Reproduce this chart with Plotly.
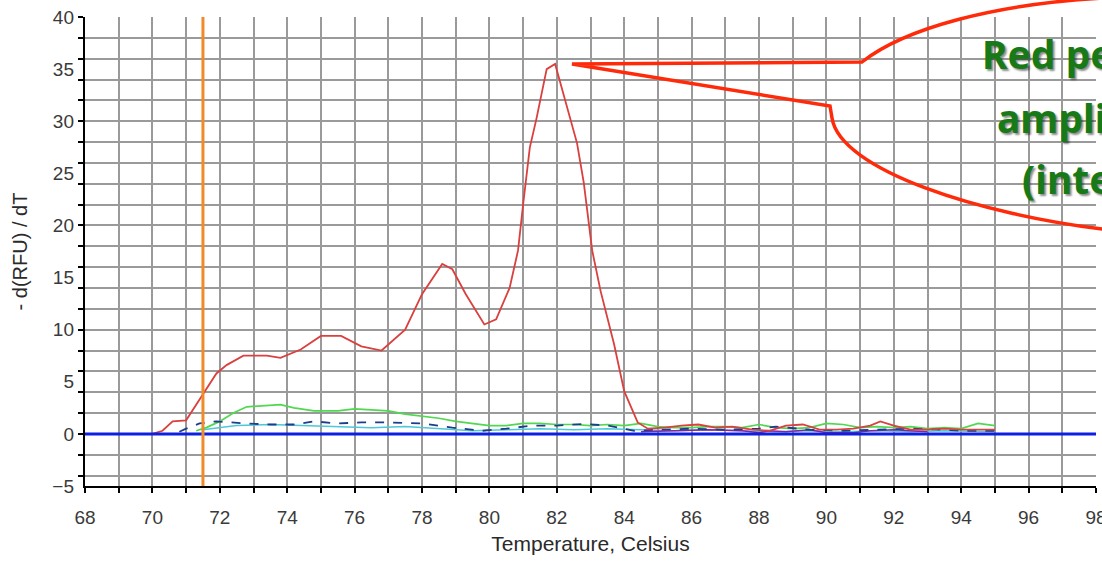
import plotly.graph_objects as go

# ---------------- data ----------------
red_x = [70.0, 70.3, 70.6, 71.0, 71.5, 71.9, 72.2, 72.7, 73.4, 73.8, 74.4, 75.0, 75.6, 76.2, 76.8,
         77.5, 78.0, 78.6, 78.9, 79.3, 79.85, 80.2, 80.6, 80.85, 81.0, 81.2, 81.4, 81.7, 81.95,
         82.3, 82.6, 82.8, 83.05, 83.3, 83.7, 84.0, 84.4, 84.7, 85.2, 85.7, 86.2, 86.7, 87.2,
         87.8, 88.3, 88.8, 89.3, 89.8, 90.3, 90.8, 91.3, 91.6, 92.0, 92.5, 93.0, 93.5, 94.0,
         94.5, 95.0]
red_y = [0.0, 0.3, 1.2, 1.3, 3.8, 5.8, 6.6, 7.5, 7.5, 7.3, 8.1, 9.4, 9.4, 8.4, 8.0,
         10.0, 13.4, 16.3, 15.8, 13.4, 10.5, 11.0, 14.0, 17.6, 22.0, 27.5, 30.3, 35.0, 35.5,
         31.4, 27.9, 24.1, 17.6, 13.7, 8.6, 4.1, 1.1, 0.5, 0.6, 0.8, 0.9, 0.6, 0.7,
         0.4, 0.3, 0.8, 0.9, 0.4, 0.4, 0.5, 0.8, 1.2, 0.8, 0.4, 0.4, 0.5, 0.4,
         0.4, 0.4]

green_x = [71.3, 71.6, 72.0, 72.4, 72.8, 73.2, 73.8, 74.2, 74.8, 75.5, 76.0, 76.5, 77.0, 77.5,
           78.0, 78.5, 79.0, 79.5, 80.0, 80.5, 81.0, 81.5, 82.0, 82.5, 83.0, 83.5, 84.0, 84.5,
           85.0, 85.5, 86.0, 86.5, 87.0, 87.5, 88.0, 88.5, 89.0, 89.5, 90.0, 90.5, 91.0, 91.5,
           92.0, 92.5, 93.0, 93.5, 94.0, 94.5, 95.0]
green_y = [0.3, 0.6, 1.2, 2.0, 2.6, 2.7, 2.8, 2.5, 2.2, 2.2, 2.4, 2.3, 2.2, 1.9,
           1.7, 1.5, 1.2, 1.0, 0.8, 0.8, 1.0, 1.0, 0.9, 0.9, 0.8, 0.9, 0.8, 1.0,
           0.7, 0.6, 0.6, 0.7, 0.7, 0.6, 0.9, 0.6, 0.5, 0.6, 1.0, 0.9, 0.6, 0.7,
           0.6, 0.7, 0.5, 0.6, 0.5, 1.0, 0.8]

navy_x = [70.8, 71.0, 71.4, 71.9, 72.8, 73.5, 74.2, 74.8, 75.5, 76.2, 77.0, 78.0, 78.9, 79.8,
          80.5, 81.3, 82.0, 82.8, 83.5, 84.3, 85.0, 86.0, 87.0, 88.0, 88.5, 89.5, 90.5, 91.5,
          92.5, 93.5, 94.0, 95.0]
navy_y = [0.2, 0.5, 1.0, 1.2, 1.0, 0.9, 0.9, 1.2, 1.0, 1.1, 1.1, 1.0, 0.6, 0.3,
          0.5, 0.8, 0.8, 0.95, 0.8, 0.3, 0.4, 0.5, 0.4, 0.5, 0.7, 0.4, 0.3, 0.4,
          0.5, 0.4, 0.3, 0.3]

cyan_x = [71.5, 72.5, 73.5, 74.5, 75.5, 76.5, 77.5, 78.5, 79.5, 80.5, 81.5, 82.5, 83.5, 84.5,
          85.5, 86.5, 87.5, 88.5, 89.5, 90.5, 91.5, 92.5, 93.5, 94.5, 95.0]
cyan_y = [0.4, 0.8, 0.9, 0.8, 0.7, 0.6, 0.7, 0.5, 0.3, 0.4, 0.5, 0.4, 0.5, 0.4,
          0.3, 0.4, 0.3, 0.2, 0.3, 0.2, 0.3, 0.2, 0.3, 0.2, 0.2]

purple_x = [84.5, 85.5, 86.5, 87.5, 88.0, 88.3, 88.8, 89.5, 90.0, 90.8, 91.3, 92.0, 93.0]
purple_y = [0.2, 0.3, 0.4, 0.3, 0.1, 0.3, 0.2, 0.4, 0.1, 0.1, 0.3, 0.4, 0.2]

baseline_x = [68, 98]
baseline_y = [0, 0]

cursor_temp = 71.5

x_ticks = list(range(68, 99))
x_ticktext = [str(v) if v % 2 == 0 else "" for v in x_ticks]
y_grid = list(range(-4, 41, 2))
y_labels = list(range(-5, 41, 5))

callout_lines = ["Red peak =", "amplicon", "(intended)"]

# ---------------- figure ----------------
W, H = 1102, 569
L, R, T, B = 85, 1096, 17, 486


def px(x, y):
    return (x - L) / (R - L), (B - y) / (B - T)


fig = go.Figure()
fig.add_trace(go.Scatter(x=cyan_x, y=cyan_y, mode="lines", line=dict(color="#4cc8d8", width=1.5)))
fig.add_trace(go.Scatter(x=purple_x, y=purple_y, mode="lines", line=dict(color="#8a1fa8", width=1.5)))
fig.add_trace(go.Scatter(x=green_x, y=green_y, mode="lines", line=dict(color="#50d850", width=1.7)))
fig.add_trace(go.Scatter(x=navy_x, y=navy_y, mode="lines", line=dict(color="#1c3c8c", width=1.8, dash="dash")))
fig.add_trace(go.Scatter(x=red_x, y=red_y, mode="lines", line=dict(color="#d9403e", width=1.8)))
fig.add_trace(go.Scatter(x=baseline_x, y=baseline_y, mode="lines", yaxis="y2",
                         line=dict(color="#0d1fe0", width=3)))

# cursor line
fig.add_shape(type="line", xref="x", yref="paper", x0=cursor_temp, x1=cursor_temp, y0=0, y1=1,
              line=dict(color="#f08a2a", width=3))

# callout bubble outline
pts = {
    "u0": px(1104, -2), "uc1": px(995, 4), "uc2": px(905, 28), "u1": px(862, 62),
    "tip": px(572, 64), "l0": px(830, 106), "l1": px(832, 118),
    "lc1": px(840, 170), "lc2": px(980, 215), "l2": px(1110, 230),
}
f = lambda k: "%.5f,%.5f" % pts[k]
path = (f"M {f('u0')} C {f('uc1')} {f('uc2')} {f('u1')} L {f('tip')} L {f('l0')} L {f('l1')} "
        f"C {f('lc1')} {f('lc2')} {f('l2')}")
fig.add_shape(type="path", xref="paper", yref="paper", path=path,
              line=dict(color="#ff2a0a", width=3.5))

for txt, (xs, ys) in zip(callout_lines, [(980, 54), (995, 117), (1020, 178)]):
    xp, yp = px(xs, ys)
    fig.add_annotation(x=xp, y=yp, xref="paper", yref="paper", text="<b>%s</b>" % txt,
                       showarrow=False, xanchor="left", yanchor="middle",
                       font=dict(family="Noto Sans", size=39, color="#177a17",
                                 shadow="2px 2px 2px rgba(0,0,0,0.45)"))

tick_font = dict(family="Liberation Sans", size=19, color="#3a3a3a")

fig.update_layout(
    width=W, height=H,
    margin=dict(l=L, r=W - R, t=T, b=H - B, autoexpand=False),
    paper_bgcolor="white", plot_bgcolor="white",
    showlegend=False,
    xaxis=dict(range=[68, 98], tickvals=x_ticks, ticktext=x_ticktext, showgrid=True,
               gridcolor="#9a9a9a", gridwidth=1.6, zeroline=False,
               showline=True, linecolor="black", linewidth=2,
               ticks="outside", ticklen=5, tickwidth=1.5, tickcolor="black",
               tickfont=tick_font, ticklabelstandoff=8, ticklabeloverflow="allow",
               title=dict(text="Temperature, Celsius",
                          font=dict(family="Liberation Sans", size=21, color="#2a2a2a"),
                          standoff=10)),
    yaxis=dict(range=[-5, 40], tickvals=y_grid, showticklabels=False, showgrid=True,
               gridcolor="#9a9a9a", gridwidth=1.6, zeroline=False,
               showline=True, linecolor="black", linewidth=2,
               ticks="outside", ticklen=5, tickwidth=1.5, tickcolor="black",
               title=dict(text="- d(RFU) / dT",
                          font=dict(family="Liberation Sans", size=20, color="#2a2a2a"),
                          standoff=45)),
    yaxis2=dict(range=[-5, 40], tickvals=y_labels, overlaying="y", side="left",
                showgrid=False, zeroline=False, showline=False, ticks="",
                tickfont=tick_font, ticklabelstandoff=10),
)

fig.write_html("out.html", config={"displayModeBar": False},
               post_script="document.body.style.margin='0';")
